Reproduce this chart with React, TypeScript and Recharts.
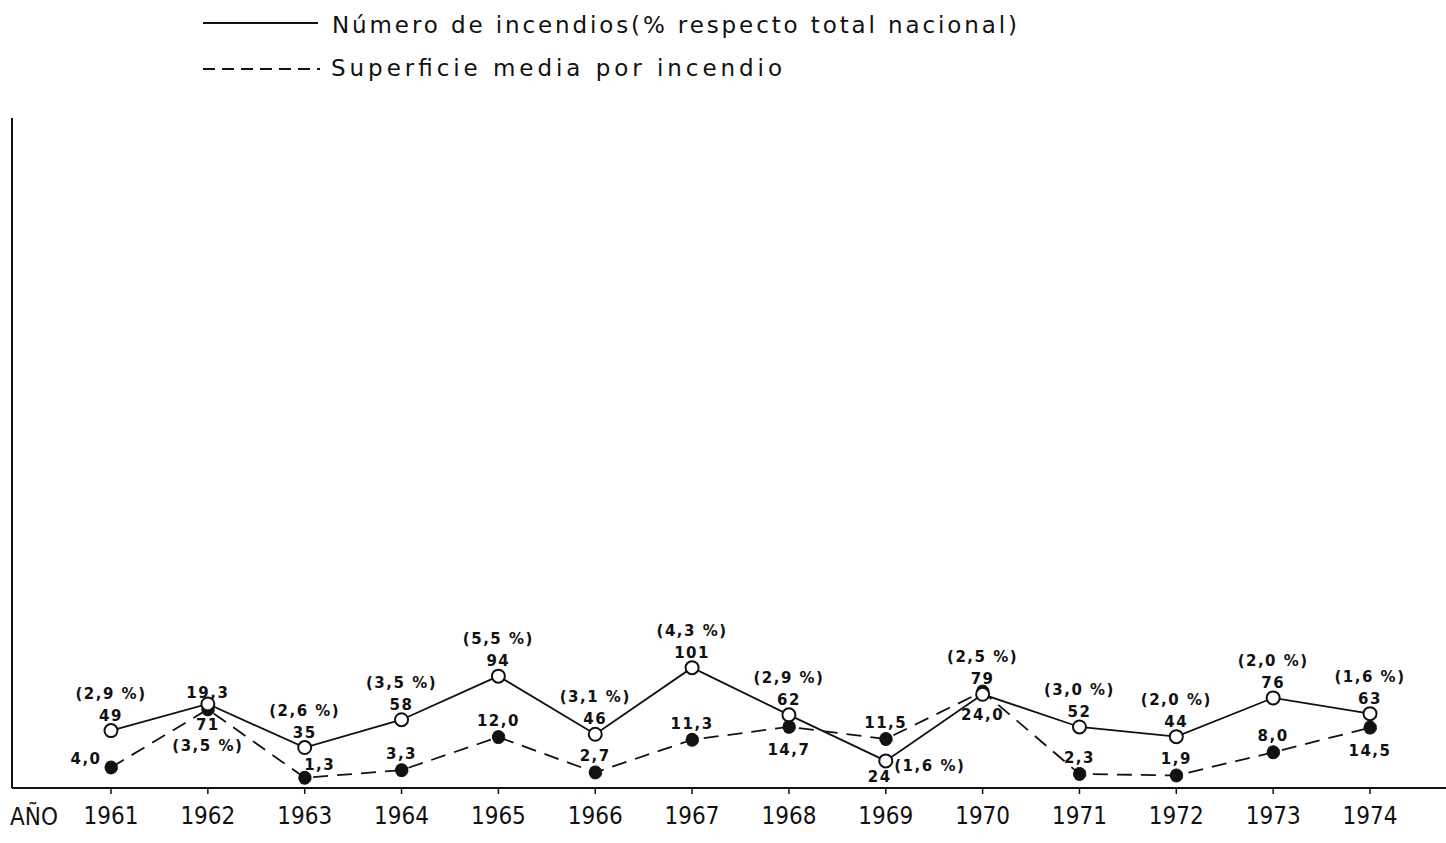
import { LineChart, Line, XAxis, YAxis, Legend } from 'recharts'

// años y valores
const years = ['1961', '1962', '1963', '1964', '1965', '1966', '1967', '1968', '1969', '1970', '1971', '1972', '1973', '1974']
const numIncendios = [49, 71, 35, 58, 94, 46, 101, 62, 24, 79, 52, 44, 76, 63]
const pctNacional = ['2,9', '3,5', '2,6', '3,5', '5,5', '3,1', '4,3', '2,9', '1,6', '2,5', '3,0', '2,0', '2,0', '1,6']
const superficieMedia = [4.0, 19.3, 1.3, 3.3, 12.0, 2.7, 11.3, 14.7, 11.5, 24.0, 2.3, 1.9, 8.0, 14.5]

// donde va cada etiqueta respecto a su punto
const numPlace = ['up', 'down', 'up', 'up', 'up', 'up', 'up', 'up', 'side', 'up', 'up', 'up', 'up', 'up']
const supPlace = ['left', 'up', 'upRight', 'up', 'up', 'up', 'up', 'down', 'up', 'down', 'up', 'up', 'up', 'down']

const data = years.map((year, i) => ({
  year,
  num: numIncendios[i],
  sup: superficieMedia[i],
}))

const labelStyle = {
  fontFamily: 'DejaVu Sans',
  fontWeight: 700,
  fontSize: 15,
  letterSpacing: 1.5,
  fill: '#111',
}

function NumLabel(props: any) {
  const { x, y, index } = props
  const place = numPlace[index]
  const value = String(numIncendios[index])
  const pct = `(${pctNacional[index]} %)`
  let vx = x, vy = y - 15, px = x, py = y - 37
  if (place === 'down') {
    vy = y + 21
    py = y + 42
  } else if (place === 'side') {
    vx = x - 6
    vy = y + 16
    px = x + 44
    py = y + 5
  }
  return (
    <g>
      <text x={vx} y={vy} textAnchor="middle" dominantBaseline="central" style={labelStyle}>{value}</text>
      <text x={px} y={py} textAnchor="middle" dominantBaseline="central" style={labelStyle}>{pct}</text>
    </g>
  )
}

function SupLabel(props: any) {
  const { x, y, index } = props
  const place = supPlace[index]
  const value = superficieMedia[index].toFixed(1).replace('.', ',')
  let lx = x, ly = y - 16
  if (place === 'down') ly = y + 23
  else if (place === 'left') {
    lx = x - 25
    ly = y - 8
  } else if (place === 'upRight') {
    lx = x + 15
    ly = y - 13
  }
  return (
    <text x={lx} y={ly} textAnchor="middle" dominantBaseline="central" style={labelStyle}>{value}</text>
  )
}

function LegendBlock() {
  const txt = { fontFamily: 'DejaVu Sans', fontSize: 23, fill: '#111' }
  return (
    <svg width={1446} height={100}>
      <line x1={203} x2={318} y1={23} y2={23} stroke="#111" strokeWidth={2} />
      <text x={332} y={25} dominantBaseline="central" textLength={685} lengthAdjust="spacing" style={txt}>
        Número de incendios(% respecto total nacional)
      </text>
      <line x1={203} x2={320} y1={69} y2={69} stroke="#111" strokeWidth={2} strokeDasharray="12 7" />
      <text x={331} y={68} dominantBaseline="central" textLength={451} lengthAdjust="spacing" style={txt}>
        Superficie media por incendio
      </text>
    </svg>
  )
}

function AnoLabel(props: any) {
  const vb = props.viewBox || { x: 12, y: 788 }
  return (
    <text x={vb.x - 2} y={vb.y + 29} dominantBaseline="central"
      style={{ fontFamily: 'DejaVu Sans Condensed', fontSize: 24, fill: '#111' }}>
      AÑO
    </text>
  )
}

export default function App() {
  return (
    <div style={{ position: 'absolute', left: 0, top: 0, width: 1446, height: 843, background: '#fff' }}>
      <LineChart width={1446} height={843} data={data} margin={{ top: 118, left: 10, right: 0, bottom: 5 }}>
        <XAxis
          dataKey="year"
          padding={{ left: 99, right: 76 }}
          height={50}
          axisLine={{ stroke: '#111', strokeWidth: 2 }}
          tickLine={{ stroke: '#111', strokeWidth: 1.5 }}
          tickSize={6}
          tickMargin={13}
          tick={{ fill: '#111', fontSize: 24, fontFamily: 'DejaVu Sans Condensed' }}
          label={<AnoLabel />}
        />
        <YAxis
          yAxisId="n"
          width={2}
          domain={[1.6, 555]}
          allowDataOverflow
          tick={false}
          tickLine={false}
          axisLine={{ stroke: '#111', strokeWidth: 2 }}
        />
        <YAxis yAxisId="s" hide domain={[-1.4, 175]} allowDataOverflow />
        <Legend
          layout="horizontal"
          verticalAlign="middle"
          align="center"
          wrapperStyle={{ top: 0, left: 0, width: 1446, height: 100 }}
          content={() => <LegendBlock />}
        />
        <Line
          yAxisId="s"
          dataKey="sup"
          type="linear"
          stroke="#111"
          strokeWidth={1.8}
          strokeDasharray="15 9"
          dot={{ r: 6.5, fill: '#111', stroke: '#111', strokeWidth: 1 }}
          label={(p: any) => <SupLabel key={`s${p.index}`} {...p} />}
          isAnimationActive={false}
        />
        <Line
          yAxisId="n"
          dataKey="num"
          type="linear"
          stroke="#111"
          strokeWidth={1.8}
          dot={{ r: 6.5, fill: '#fff', stroke: '#111', strokeWidth: 2 }}
          label={(p: any) => <NumLabel key={`n${p.index}`} {...p} />}
          isAnimationActive={false}
        />
      </LineChart>
    </div>
  )
}
